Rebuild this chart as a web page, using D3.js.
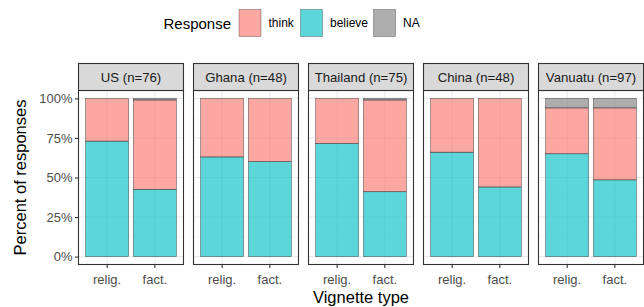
<!DOCTYPE html>
<html>
<head>
<meta charset="utf-8">
<script src="https://cdn.jsdelivr.net/npm/d3@7"></script>
<style>
  html, body { margin: 0; padding: 0; background: #fff; }
  svg { display: block; font-family: "Liberation Sans", Arial, sans-serif; }
</style>
</head>
<body>
<svg id="chart" width="644" height="307"></svg>
<script>
// ---- Data ----
const countries = ["US (n=76)", "Ghana (n=48)", "Thailand (n=75)", "China (n=48)", "Vanuatu (n=97)"];
const vignettes = ["relig.", "fact."];
const responses = ["believe", "think", "NA"];           // stacking order, bottom to top
const legendOrder = ["think", "believe", "NA"];
const believeRelig = [73, 63, 71.5, 66, 65];
const believeFact  = [42.5, 60, 41, 44, 48.5];
const thinkRelig   = [27, 37, 28.5, 34, 29];
const thinkFact    = [56.5, 40, 58, 56, 45.5];
const naRelig      = [0, 0, 0, 0, 6];
const naFact       = [1, 0, 1, 0, 6];
const yTicks = [0, 25, 50, 75, 100];
const yMinor = [12.5, 37.5, 62.5, 87.5];

const colors = { think: "#F8766D", believe: "#00BFC4", NA: "#7F7F7F" };

// ---- Build records ----
const rows = [];
countries.forEach((c, i) => {
  rows.push({ country: c, vignette: "relig.", believe: believeRelig[i], think: thinkRelig[i], NA: naRelig[i] });
  rows.push({ country: c, vignette: "fact.",  believe: believeFact[i],  think: thinkFact[i],  NA: naFact[i] });
});

const svg = d3.select("#chart");

// ---- Layout ----
const panelW = 105, panelGap = 10, firstLeft = 78.5;
const stripTop = 63.5, stripH = 27;
const panelTop = stripTop + stripH, panelBottom = 264.5;

const fx = d3.scaleBand().domain(countries)
  .range([firstLeft, firstLeft + countries.length * panelW + (countries.length - 1) * panelGap])
  .paddingInner(panelGap / (panelW + panelGap)).paddingOuter(0);

// x within panel: ggplot discrete expansion (0.6 units on each side)
const xPos = d3.scaleLinear().domain([0.4, 2.6]).range([0, panelW]);
const barHalf = 0.45;

const y = d3.scaleLinear().domain([-5, 105]).range([panelBottom, panelTop]);

const stack = d3.stack().keys(responses);

countries.forEach((c, ci) => {
  const g = svg.append("g").attr("transform", `translate(${fx(c)},0)`);
  g.append("rect").attr("x", 0).attr("y", panelTop).attr("width", panelW).attr("height", panelBottom - panelTop)
    .attr("fill", "#fff");
  g.selectAll(".ming").data(yMinor).join("line")
    .attr("x1", 0).attr("x2", panelW).attr("y1", d => y(d)).attr("y2", d => y(d))
    .attr("stroke", "#F5F5F5").attr("stroke-width", 0.6);
  g.selectAll(".majg").data(yTicks).join("line")
    .attr("x1", 0).attr("x2", panelW).attr("y1", d => y(d)).attr("y2", d => y(d))
    .attr("stroke", "#EBEBEB").attr("stroke-width", 1.1);
  g.selectAll(".vg").data(vignettes).join("line")
    .attr("x1", (d, i) => xPos(i + 1)).attr("x2", (d, i) => xPos(i + 1))
    .attr("y1", panelTop).attr("y2", panelBottom)
    .attr("stroke", "#EBEBEB").attr("stroke-width", 1.1);

  const pr = rows.filter(r => r.country === c);
  const series = stack(pr);
  series.forEach(s => {
    g.selectAll(null).data(s).join("rect")
      .attr("x", (d, i) => xPos(i + 1 - barHalf))
      .attr("width", xPos(1 + barHalf) - xPos(1 - barHalf))
      .attr("y", d => y(d[1]))
      .attr("height", d => Math.max(0, y(d[0]) - y(d[1])))
      .attr("fill", colors[s.key]).attr("fill-opacity", 0.64)
      .attr("stroke", "#333").attr("stroke-opacity", 0.75).attr("stroke-width", 0.6)
      .style("display", d => (d[1] - d[0]) > 0 ? null : "none");
  });

  g.append("rect").attr("x", 0).attr("y", panelTop).attr("width", panelW).attr("height", panelBottom - panelTop)
    .attr("fill", "none").attr("stroke", "#333").attr("stroke-width", 1.1);
  g.append("rect").attr("x", 0).attr("y", stripTop).attr("width", panelW).attr("height", stripH)
    .attr("fill", "#D9D9D9").attr("stroke", "#333").attr("stroke-width", 1.1);
  g.append("text").attr("x", panelW / 2).attr("y", stripTop + stripH / 2).attr("dy", "0.35em")
    .attr("text-anchor", "middle").attr("font-size", 13.2).attr("fill", "#1A1A1A").text(c);

  vignettes.forEach((v, i) => {
    g.append("line").attr("x1", xPos(i + 1)).attr("x2", xPos(i + 1))
      .attr("y1", panelBottom).attr("y2", panelBottom + 3.5).attr("stroke", "#333").attr("stroke-width", 1.1);
    g.append("text").attr("x", xPos(i + 1)).attr("y", panelBottom + 14.5).attr("dy", "0.35em")
      .attr("text-anchor", "middle").attr("font-size", 13).attr("fill", "#4D4D4D").text(v);
  });
});

const yAxisG = svg.append("g").attr("transform", `translate(${firstLeft},0)`);
yAxisG.call(d3.axisLeft(y).tickValues(yTicks).tickSize(3.5).tickPadding(2.5).tickFormat(d => d + "%"));
yAxisG.select(".domain").remove();
yAxisG.selectAll(".tick line").attr("stroke", "#333").attr("stroke-width", 1.1);
yAxisG.selectAll(".tick text").attr("font-size", 13).attr("fill", "#4D4D4D")
  .attr("font-family", "Liberation Sans, Arial, sans-serif");

svg.append("text").attr("x", (firstLeft + fx(countries[4]) + panelW) / 2).attr("y", 297).attr("dy", "0.35em")
  .attr("text-anchor", "middle").attr("font-size", 16.5).attr("fill", "#000").text("Vignette type");
svg.append("text").attr("transform", `translate(20,${(panelTop + panelBottom) / 2}) rotate(-90)`)
  .attr("dy", "0.35em").attr("text-anchor", "middle").attr("font-size", 16.5).attr("fill", "#000")
  .text("Percent of responses");

const lg = svg.append("g");
lg.append("text").attr("x", 231).attr("y", 23.5).attr("dy", "0.35em").attr("text-anchor", "end")
  .attr("font-size", 15).attr("fill", "#000").text("Response");
const keyX = { think: 239, believe: 300.5, NA: 373.5 };
legendOrder.forEach(k => {
  lg.append("rect").attr("x", keyX[k]).attr("y", 9.5).attr("width", 22).attr("height", 27)
    .attr("fill", colors[k]).attr("fill-opacity", 0.64)
    .attr("stroke", "#333").attr("stroke-opacity", 0.6).attr("stroke-width", 0.6);
  lg.append("text").attr("x", keyX[k] + 29.5).attr("y", 23).attr("dy", "0.35em")
    .attr("font-size", 12).attr("fill", "#000").text(k);
});
</script>
</body>
</html>
